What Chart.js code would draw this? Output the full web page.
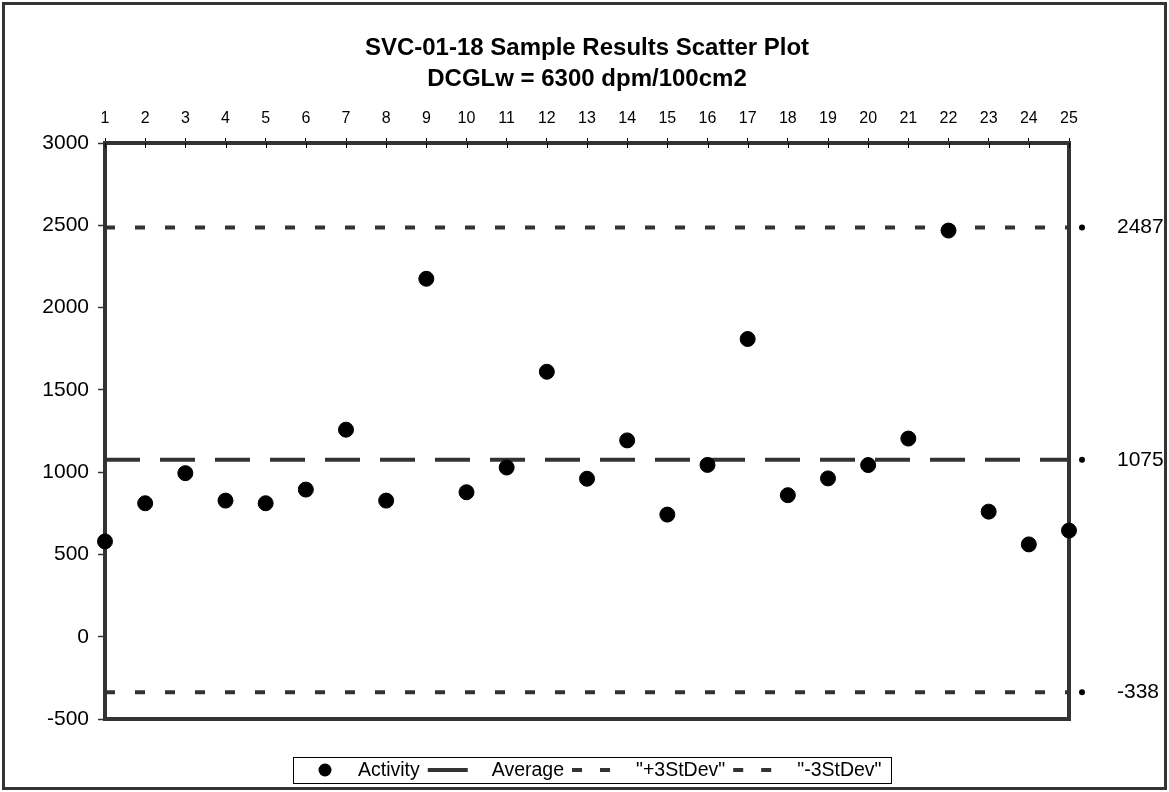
<!DOCTYPE html>
<html>
<head>
<meta charset="utf-8">
<script src="https://cdn.jsdelivr.net/npm/chart.js@4.4.1/dist/chart.umd.min.js"></script>
<style>
html,body{margin:0;padding:0;background:#fff;}
#wrap{width:1169px;height:792px;position:relative;}
canvas{display:block;}
</style>
</head>
<body>
<div id="wrap"><canvas id="c" width="1169" height="792"></canvas></div>
<script>
// ---- data ----
const titleLines = ['SVC-01-18 Sample Results Scatter Plot', 'DCGLw = 6300 dpm/100cm2'];
const sampleNumbers = [1,2,3,4,5,6,7,8,9,10,11,12,13,14,15,16,17,18,19,20,21,22,23,24,25];
const activity = [579, 811, 994, 827, 811, 894, 1258, 827, 2175, 878, 1028, 1610, 960, 1193, 742, 1044, 1809, 860, 962, 1043, 1204, 2468, 760, 561, 645];
const averageValue = 1075;
const plus3StDevValue = 2487;
const minus3StDevValue = -338;
const yTickValues = [-500, 0, 500, 1000, 1500, 2000, 2500, 3000];
const seriesNames = ['Activity', 'Average', '"+3StDev"', '"-3StDev"'];

const FONT = '"Liberation Sans", Arial, Helvetica, sans-serif';
const DARK = '#333333';

function flatLine(v) {
  return [{x: sampleNumbers[0], y: v}, {x: sampleNumbers[sampleNumbers.length - 1], y: v}];
}

const decor = {
  id: 'decor',
  beforeDraw(chart) {
    const ctx = chart.ctx;
    ctx.save();
    ctx.fillStyle = '#fff';
    ctx.fillRect(0, 0, chart.width, chart.height);
    ctx.strokeStyle = DARK;
    ctx.lineWidth = 3;
    ctx.strokeRect(3.5, 3.5, chart.width - 7, chart.height - 7);
    ctx.restore();
  },
  beforeDatasetsDraw(chart) {
    const ctx = chart.ctx, a = chart.chartArea, xs = chart.scales.x;
    ctx.save();
    ctx.strokeStyle = DARK;
    ctx.lineWidth = 4;
    ctx.beginPath();
    ctx.moveTo(a.right, a.top - 2);
    ctx.lineTo(a.right, a.bottom);
    ctx.lineTo(a.left - 2, a.bottom);
    ctx.stroke();
    // inner half of the cross tick marks on the top axis
    ctx.strokeStyle = '#000';
    ctx.lineWidth = 1;
    xs.ticks.forEach(t => {
      const px = Math.round(xs.getPixelForValue(t.value)) + 0.5;
      ctx.beginPath();
      ctx.moveTo(px, a.top);
      ctx.lineTo(px, a.top + 5);
      ctx.stroke();
    });
    ctx.restore();
  },
  afterDraw(chart) {
    const ctx = chart.ctx, a = chart.chartArea, ys = chart.scales.y;
    ctx.save();
    // right-hand value labels of the reference lines
    ctx.font = '21px ' + FONT;
    ctx.textBaseline = 'middle';
    ctx.textAlign = 'left';
    [plus3StDevValue, averageValue, minus3StDevValue].forEach(v => {
      const py = ys.getPixelForValue(v);
      ctx.fillStyle = '#000';
      ctx.beginPath();
      ctx.arc(a.right + 13, py, 3, 0, Math.PI * 2);
      ctx.fill();
      ctx.fillText(String(v), a.right + 48, py);
    });
    // legend
    const ds = chart.data.datasets;
    ctx.font = '19.5px ' + FONT;
    const order = [0, 1, 2, 3];
    const symW = 40, padL = 12, padR = 10, gapText = 8;
    let total = padL + padR;
    order.forEach(i => {
      total += symW + (i === 0 ? 13 : 24) + ctx.measureText(ds[i].label).width + (i === 3 ? 0 : gapText);
    });
    const cx = (a.left + a.right) / 2 + 5;
    const left = Math.round(cx - total / 2);
    const top = 757, h = 26, midY = top + h / 2;
    ctx.strokeStyle = '#000';
    ctx.lineWidth = 1;
    ctx.strokeRect(left + 0.5, top + 0.5, Math.round(total), h);
    let x = left + padL;
    order.forEach(i => {
      const d = ds[i];
      if (i === 0) {
        ctx.fillStyle = '#000';
        ctx.beginPath();
        ctx.arc(x + symW / 2, midY, 6.5, 0, Math.PI * 2);
        ctx.fill();
        x += symW + 13;
      } else {
        ctx.strokeStyle = d.borderColor;
        ctx.lineWidth = 4;
        ctx.setLineDash(i === 1 ? [40, 20] : [10, 18]);
        ctx.beginPath();
        ctx.moveTo(x, midY);
        ctx.lineTo(x + (i === 1 ? symW : 38), midY);
        ctx.stroke();
        ctx.setLineDash([]);
        x += symW + 24;
      }
      ctx.fillStyle = '#000';
      ctx.textAlign = 'left';
      ctx.fillText(d.label, x, midY + 1);
      x += ctx.measureText(d.label).width + gapText;
    });
    ctx.restore();
  }
};

new Chart(document.getElementById('c'), {
  type: 'scatter',
  data: {
    datasets: [
      {
        label: seriesNames[0],
        data: sampleNumbers.map((n, i) => ({x: n, y: activity[i]})),
        backgroundColor: '#000',
        borderColor: '#000',
        pointRadius: 7.5,
        pointBorderWidth: 1,
        pointHoverRadius: 7.5,
        showLine: false,
        clip: false,
        order: 0
      },
      {
        type: 'line',
        label: seriesNames[1],
        data: flatLine(averageValue),
        borderColor: DARK,
        borderWidth: 4,
        borderDash: [35, 20],
        borderCapStyle: 'butt',
        pointRadius: 0,
        fill: false,
        order: 1
      },
      {
        type: 'line',
        label: seriesNames[2],
        data: flatLine(plus3StDevValue),
        borderColor: DARK,
        borderWidth: 4,
        borderDash: [10, 20],
        borderCapStyle: 'butt',
        pointRadius: 0,
        fill: false,
        order: 1
      },
      {
        type: 'line',
        label: seriesNames[3],
        data: flatLine(minus3StDevValue),
        borderColor: DARK,
        borderWidth: 4,
        borderDash: [10, 20],
        borderCapStyle: 'butt',
        pointRadius: 0,
        fill: false,
        order: 1
      }
    ]
  },
  options: {
    responsive: false,
    animation: false,
    devicePixelRatio: 1,
    layout: {padding: {left: 0, right: 100, top: 0, bottom: 73}},
    scales: {
      x: {
        type: 'linear',
        position: 'top',
        min: sampleNumbers[0],
        max: sampleNumbers[sampleNumbers.length - 1],
        afterBuildTicks: s => { s.ticks = sampleNumbers.map(v => ({value: v})); },
        afterFit: s => { s.height = 48.5; },
        ticks: {
          autoSkip: false,
          maxRotation: 0,
          padding: 10,
          color: '#000',
          font: {family: FONT, size: 16},
          callback: v => String(v)
        },
        grid: {drawOnChartArea: false, tickLength: 5, tickColor: '#000', tickWidth: 1},
        border: {display: true, color: DARK, width: 4}
      },
      y: {
        type: 'linear',
        position: 'left',
        min: yTickValues[0],
        max: yTickValues[yTickValues.length - 1],
        afterBuildTicks: s => { s.ticks = yTickValues.map(v => ({value: v})); },
        afterFit: s => { s.width = 105; },
        ticks: {
          padding: 9,
          color: '#000',
          font: {family: FONT, size: 21},
          callback: v => String(v)
        },
        grid: {drawOnChartArea: false, tickLength: 7, tickColor: DARK, tickWidth: 1.5},
        border: {display: true, color: DARK, width: 4}
      }
    },
    plugins: {
      legend: {display: false},
      tooltip: {enabled: false},
      title: {
        display: true,
        text: titleLines,
        fullSize: false,
        color: '#000',
        font: {family: FONT, size: 24, weight: 'bold', lineHeight: 31 / 24},
        padding: {top: 32.5, bottom: 0}
      }
    }
  },
  plugins: [decor]
});
</script>
</body>
</html>
